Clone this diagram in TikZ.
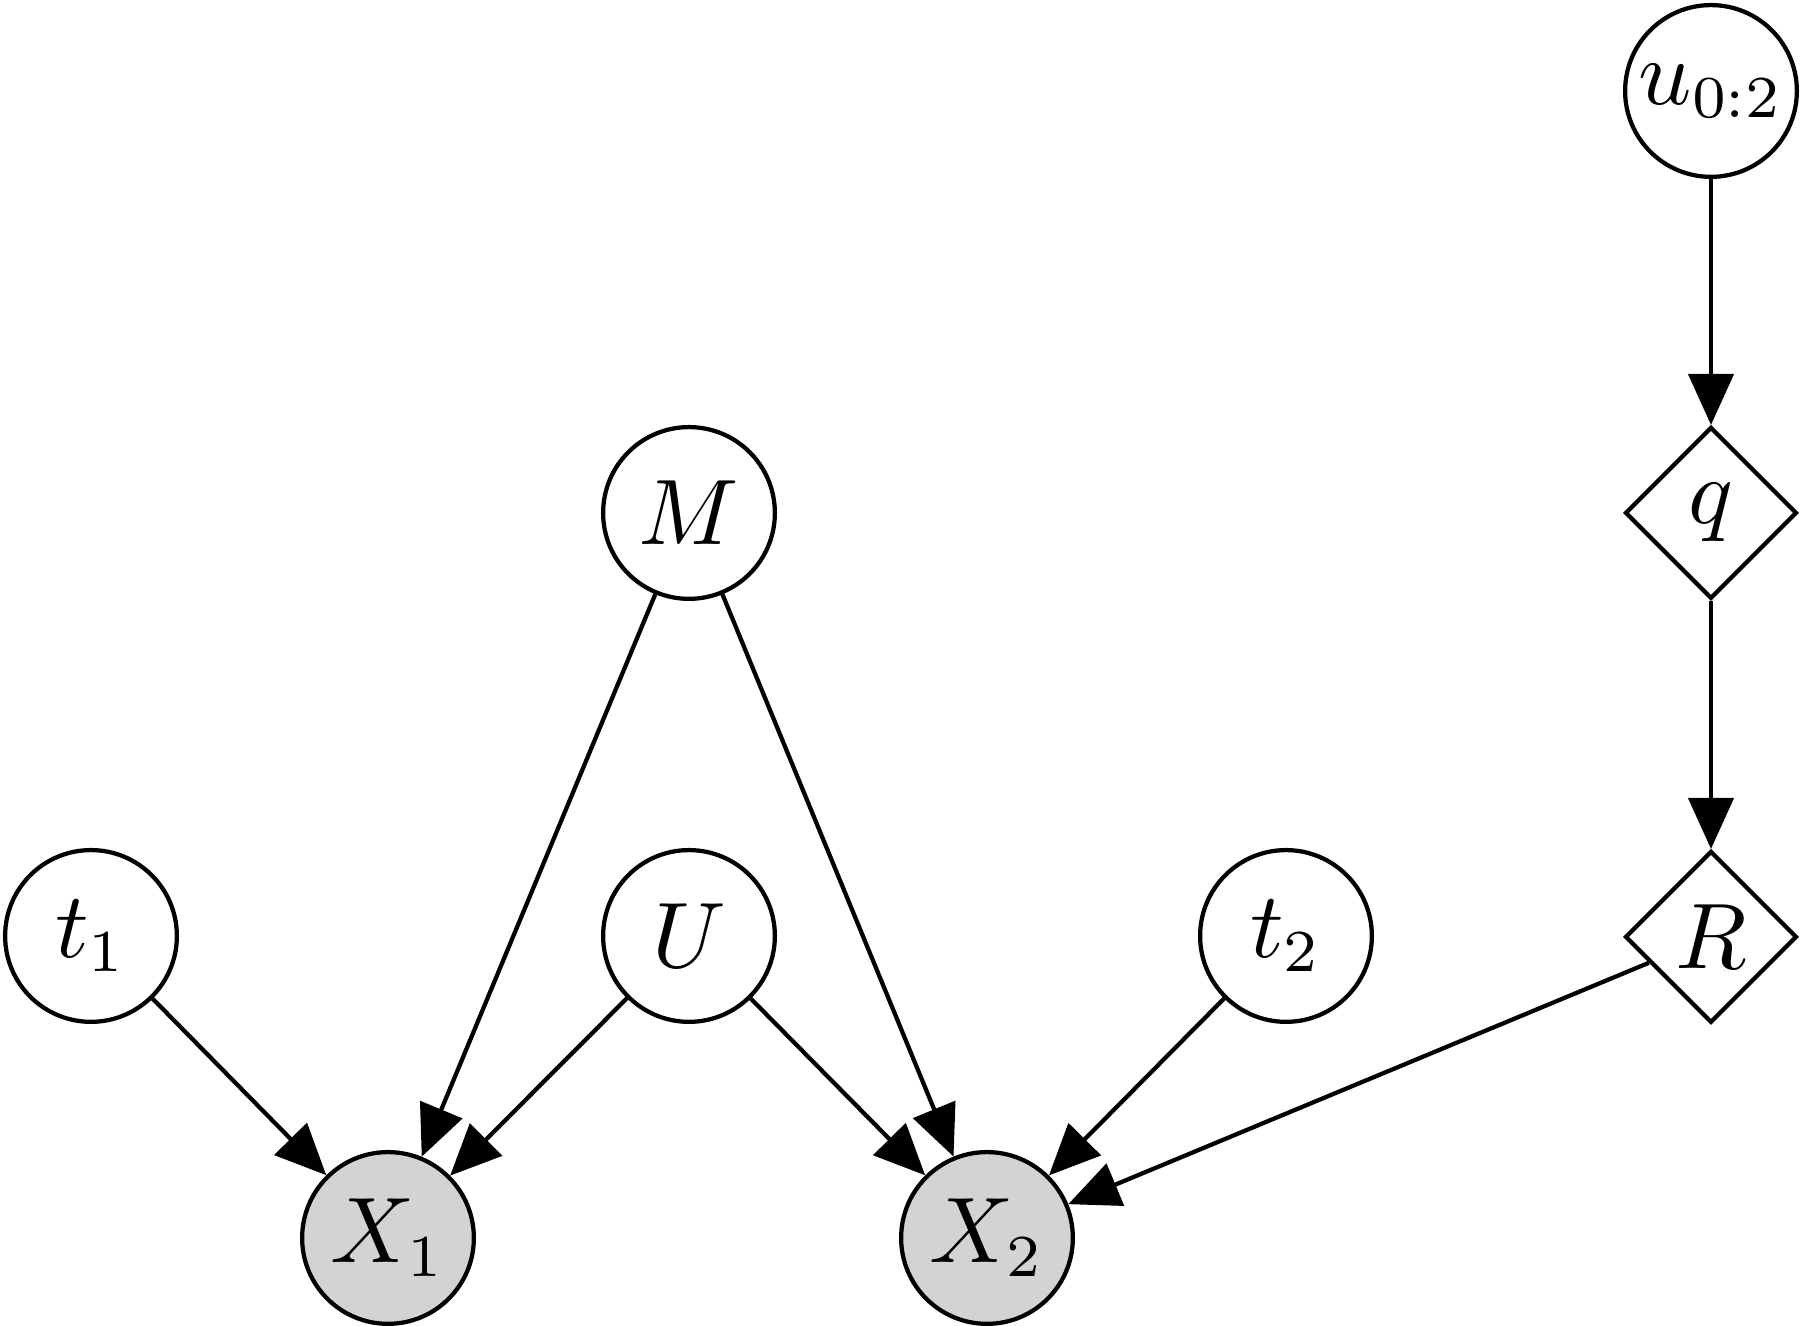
\documentclass[tikz,border=0pt]{standalone}
\usetikzlibrary{shapes.geometric,arrows.meta}
\definecolor{obsgray}{RGB}{211,211,211}
\begin{document}
\begin{tikzpicture}[x=0.1176pt,y=-0.1176pt,
  latent/.style={circle,draw,line width=0.5pt,minimum size=20.2pt,inner sep=0pt,font=\fontsize{10.5}{12}\selectfont},
  obs/.style={latent,fill=obsgray},
  det/.style={diamond,draw,line width=0.5pt,minimum size=20.2pt,inner sep=0pt,aspect=1,font=\fontsize{10.5}{12}\selectfont},
  edge/.style={line width=0.5pt,-{Triangle[length=6pt,width=5.3pt]}}]
\useasboundingbox (0,0) rectangle (1800,1326);
\node[latent] (u) at (1711,91) {$u_{0:2}$};
\node[det] (q) at (1711,513) {$q$};
\node[det] (R) at (1711,937) {$R$};
\node[latent] (M) at (689,513) {$M$};
\node[latent] (t1) at (91,936) {$t_1$};
\node[latent] (U) at (689,936) {$U$};
\node[latent] (t2) at (1286,936) {$t_2$};
\node[obs] (X1) at (388,1238) {$X_1$};
\node[obs] (X2) at (987,1238) {$X_2$};
\draw[edge] (u) -- (q);
\draw[edge] (q) -- (R);
\draw[edge] (t1) -- (X1);
\draw[edge] (M) -- (X1);
\draw[edge] (U) -- (X1);
\draw[edge] (U) -- (X2);
\draw[edge] (M) -- (X2);
\draw[edge] (t2) -- (X2);
\draw[edge] (R) -- (X2);
\end{tikzpicture}
\end{document}
